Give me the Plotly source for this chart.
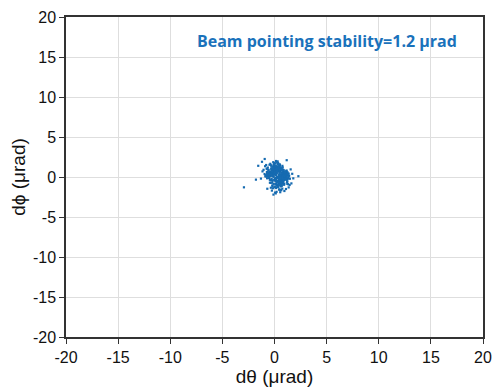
import plotly.graph_objects as go

d_theta = [
    0.12, -0.45, 0.83, 0.31, -0.22, 1.05, 0.56, -0.71, 0.09, 0.44,
    -0.13, 0.67, 1.22, -0.38, 0.25, 0.91, -0.05, 0.48, -0.88, 0.73,
    0.18, -0.29, 1.41, 0.02, 0.61, -0.52, 0.35, 0.97, -0.16, 0.54,
    0.79, -0.64, 0.27, 1.13, -0.09, 0.41, 0.66, -0.33, 0.15, 1.31,
    -0.57, 0.22, 0.88, -0.02, 0.49, 1.18, -0.41, 0.33, 0.71, -0.19,
    0.06, 0.95, -0.76, 0.38, 0.58, -0.11, 1.26, 0.21, -0.48, 0.84,
    0.29, -0.35, 0.63, 1.02, -0.07, 0.46, -0.95, 0.74, 0.11, 0.52,
    1.48, -0.24, 0.36, 0.87, -0.61, 0.19, 0.69, -0.14, 1.09, 0.03,
    -0.43, 0.57, 0.26, 1.36, -0.31, 0.81, 0.14, -0.69, 0.42, 0.99,
    0.07, -0.18, 0.64, 1.16, -0.53, 0.32, 0.76, -0.04, 0.51, -0.82,
    0.93, 0.17, -0.27, 0.59, 1.27, -0.12, 0.39, 0.85, -0.46, 0.23,
    0.68, -0.37, 1.07, 0.04, 0.47, -0.59, 0.28, 0.94, -0.21, 0.62,
    1.19, -0.08, 0.34, 0.78, -0.73, 0.13, 0.55, -0.26, 1.34, 0.45,
    -0.15, 0.72, 0.24, -0.49, 0.98, 0.37, -0.01, 1.11, 0.53, -0.34,
    0.86, 0.08, -0.62, 0.43, 1.23, -0.17, 0.65, 0.19, -0.39, 0.77,
    0.30, 1.04, -0.06, 0.58, -0.84, 0.16, 0.89, 0.40, -0.23, 1.29,
    0.50, -0.55, 0.70, 0.10, 1.15, -0.30, 0.60, 0.26, -0.10, 0.82,
    -0.67, 0.36, 0.96, 0.05, 0.53, -0.42, 1.21, 0.20, 0.75, -0.20,
    0.44, 0.01, 1.00, -0.50, 0.31, 0.66, -0.03, 0.92, 0.14, -0.78,
    1.08, 0.27, -0.36, 0.57, 0.85, -0.12, 0.39, 1.37, -0.58, 0.22,
    -2.93, 2.29, -0.94, 1.17, -1.56, -1.78, -0.10, 1.36, 1.80, -1.20,
    -1.05, 1.62, 1.55, -1.30, 0.95, -0.90, 1.70, -1.15, 0.30, 1.45,
    0.60, -0.80, 0.20, 1.30, -0.40, 0.00, 0.75, -0.25, 1.10, 0.45,
    0.35, 0.90, -0.15, 0.55, 0.15, 1.20, -0.60, 0.65, 0.05, 0.80,
    -0.30, 0.48, 1.02, 0.24, -0.70, 0.70, 0.12, 0.58, -0.05, 0.38,
    0.22, 0.61, -0.37, 0.84, 0.05, 0.43, -0.19, 1.02, 0.31, -0.56,
    0.73, 0.14, 0.52, -0.08, 0.95, 0.27, -0.44, 0.66, 0.09, 1.14,
    0.38, -0.27, 0.81, 0.18, -0.63, 0.49, 1.23, -0.02, 0.57, 0.33,
    -0.13, 0.91, 0.24, 0.69, -0.35, 0.11, 1.07, 0.46, -0.21, 0.78,
    0.03, 0.62, -0.48, 0.35, 0.88, 0.17, -0.09, 1.18, 0.54, -0.31,
    0.72, 0.26, -0.66, 0.41, 0.99, 0.07, 0.59, -0.17, 0.83, 0.36,
    -0.41, 0.64, 0.19, 1.09, -0.04, 0.47, 0.92, -0.24, 0.29, 0.76,
    0.13, -0.52, 0.68, 1.26, 0.21, -0.12, 0.56, 0.87, -0.33, 0.44,
    1.01, 0.08, -0.71, 0.39, 0.79, 0.16, -0.26, 0.63, 1.16, 0.25,
    -0.06, 0.51, 0.94, -0.46, 0.34, 0.71, 0.02, 1.04, -0.15, 0.58,
]

d_phi = [
    0.21, -0.34, 0.58, 1.02, -0.71, 0.13, 0.87, -0.16, 1.24, -0.49,
    0.46, 0.95, -0.23, 0.31, -1.05, 0.69, 1.37, -0.58, 0.08, 0.41,
    -0.87, 0.62, 0.17, -0.39, 1.11, 0.27, -1.21, 0.53, 0.79, -0.06,
    0.34, 1.18, -0.52, 0.74, 0.02, -0.95, 0.49, 1.46, -0.28, 0.11,
    0.83, -0.13, 0.39, 1.29, -0.64, 0.56, -0.33, 0.97, 0.19, -1.12,
    -0.45, 0.24, 1.05, -0.81, 0.66, 0.14, -0.19, 0.91, 1.53, -0.37,
    0.71, -1.34, 0.28, -0.08, 0.93, -0.56, 0.37, 0.04, 1.19, -0.76,
    -0.22, 0.78, 1.33, -0.41, 0.16, 0.99, -0.69, 0.45, -0.15, 1.08,
    0.61, -0.92, 0.05, 0.43, 1.41, -0.27, 0.72, -1.47, 0.26, 0.33,
    1.22, 0.09, -0.62, 0.81, -0.11, 1.63, -0.44, 0.36, -0.98, 0.18,
    -0.31, 0.52, 0.88, -1.18, 0.29, 1.14, -0.05, 0.67, 0.42, -0.53,
    1.01, -0.74, 0.22, 0.59, -0.36, 0.15, 1.27, -0.83, 0.48, 0.03,
    -0.26, 0.85, -1.02, 0.12, 0.63, 1.35, -0.47, 0.31, -0.12, 0.76,
    0.55, -0.67, 1.17, 0.38, -0.20, 0.94, -1.28, 0.07, 1.48, -0.40,
    -0.09, 0.70, 0.32, 1.26, -0.86, 0.47, -0.24, 1.07, 0.60, -0.60,
    0.89, -0.29, 1.44, -0.72, 0.23, -1.38, 0.51, 0.00, 0.98, -0.17,
    1.58, 0.35, -0.50, 0.76, -0.35, 0.19, -1.08, 1.12, 0.64, -0.78,
    0.10, 0.92, -0.25, 1.71, -0.90, 0.44, 0.27, -0.61, 0.83, 1.30,
    -1.55, 0.57, -0.14, 0.39, 1.06, -0.43, 0.80, -0.97, 0.25, 0.06,
    0.30, -1.25, 0.68, 1.20, -0.54, 1.85, -0.32, 0.13, 0.90, -0.07,
    -1.29, 0.10, 2.25, 2.10, 1.40, -0.33, -2.20, -1.30, -0.17, 1.90,
    0.90, -0.80, 0.95, -0.20, -1.75, 1.35, 0.40, 0.70, 1.95, -1.00,
    -1.60, 1.50, -1.85, -0.90, 1.65, 1.75, -1.45, -1.70, -1.50, 1.55,
    1.75, 0.25, -1.40, -1.90, 2.00, -0.65, 0.55, -1.65, -1.95, 0.45,
    1.10, -1.60, 0.60, 1.80, 1.00, -1.10, -2.05, 0.10, 1.65, 0.85,
    0.45, -0.62, 0.13, 0.89, -0.21, 1.04, -0.48, 0.31, 0.72, -0.05,
    -0.83, 0.56, 1.21, -0.34, 0.18, 0.97, -0.71, 0.41, -0.14, 0.66,
    1.33, -0.26, 0.08, -0.94, 0.59, 0.24, -0.53, 0.81, -0.38, 1.12,
    0.36, -0.09, 0.93, -0.67, 0.27, 1.45, -0.18, 0.51, -1.06, 0.04,
    0.77, -0.43, 0.19, 1.16, -0.29, 0.63, -0.86, 0.38, 0.02, 0.99,
    -0.57, 0.84, 0.29, -0.12, 0.55, -1.19, 0.16, 0.73, -0.40, 1.27,
    0.07, -0.77, 0.48, 0.21, 0.91, -0.33, 0.11, 0.68, -0.60, 1.39,
    -0.24, 0.35, -1.01, 0.58, 1.08, 0.14, -0.47, 0.86, 0.32, -0.15,
    0.62, -0.89, 0.43, -0.03, 1.18, -0.55, 0.26, 0.95, -0.31, 0.71,
    1.50, -0.69, 0.09, 0.37, -1.25, 0.82, 0.53, -0.20, 1.03, -0.08,
]

tick_vals = [-20, -15, -10, -5, 0, 5, 10, 15, 20]
annotation_text = "Beam pointing stability=1.2 μrad"

fig = go.Figure()
fig.add_trace(go.Scatter(
    x=d_theta, y=d_phi, mode="markers",
    marker=dict(symbol="square", size=2.2, color="#166bb1", line=dict(width=0)),
    showlegend=False,
))

axis_common = dict(
    range=[-20, 20], tickvals=tick_vals, ticktext=[str(v) for v in tick_vals],
    showgrid=True, gridcolor="#dedede", gridwidth=1, zeroline=False,
    showline=True, linecolor="#333333", linewidth=1.5, mirror=True,
    ticks="outside", ticklen=5, tickcolor="#333333", tickwidth=1.2,
    tickfont=dict(family="Liberation Sans, Arial", size=16, color="#111111"),
    automargin=False,
)

fig.update_xaxes(**axis_common,
                 title=dict(text="dθ (μrad)", font=dict(family="Liberation Sans, Arial", size=19, color="#111111"), standoff=4))
fig.update_yaxes(**axis_common,
                 title=dict(text="dϕ (μrad)", font=dict(family="Liberation Sans, Arial", size=19, color="#111111"), standoff=2))

fig.add_annotation(
    x=5, y=17, xref="x", yref="y", text="<b>" + annotation_text + "</b>",
    showarrow=False, font=dict(family="Open Sans, Noto Sans", size=16, color="#1a72bb"),
)

fig.update_layout(
    width=494, height=388,
    margin=dict(l=66, r=11, t=17, b=51),
    plot_bgcolor="white", paper_bgcolor="white",
)

fig.write_html("out.html")
